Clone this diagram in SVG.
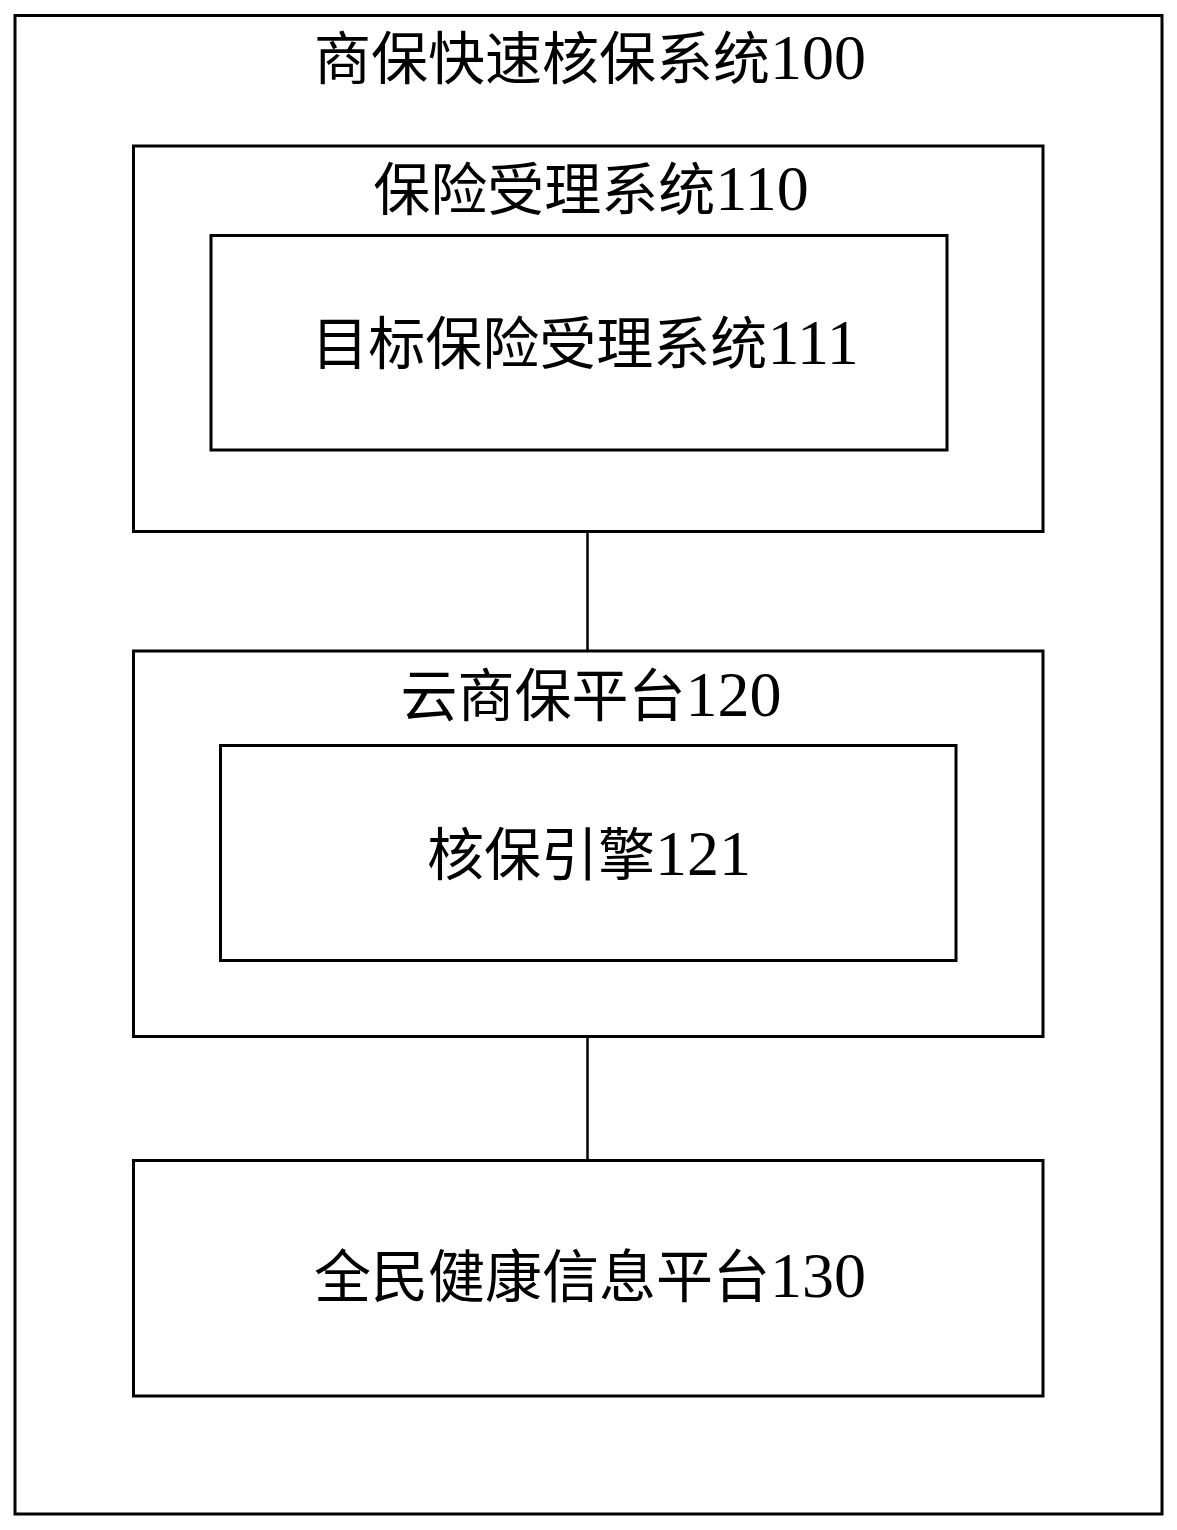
<svg xmlns="http://www.w3.org/2000/svg" width="1177" height="1530" viewBox="0 0 1177 1530">
<style>
.box{fill:none;stroke:#000;stroke-width:3}
.conn{stroke:#000;stroke-width:2.5;fill:none}
.lbl{font-family:"Noto Sans CJK SC","Liberation Serif",serif;font-size:57px;fill:#000;text-anchor:middle}
.num{font-family:"Liberation Serif",serif;font-size:64px}
</style>
<rect width="1177" height="1530" fill="#fff"/>
<g id="connectors">
<line class="conn" x1="587.5" y1="532" x2="587.5" y2="650"/>
<line class="conn" x1="587.5" y1="1037" x2="587.5" y2="1160"/>
</g>
<g id="n100">
<rect class="box" x="15" y="15.5" width="1147" height="1498.5"/>
<text class="lbl" x="590" y="79">商保快速核保系统<tspan class="num">100</tspan></text>
</g>
<g id="n110">
<rect class="box" x="133.5" y="146" width="909.5" height="385.5"/>
<text class="lbl" x="591" y="210">保险受理系统<tspan class="num">110</tspan></text>
</g>
<g id="n111">
<rect class="box" x="211" y="235.5" width="736" height="214.5"/>
<text class="lbl" x="585" y="364">目标保险受理系统<tspan class="num">111</tspan></text>
</g>
<g id="n120">
<rect class="box" x="133.5" y="651" width="909.5" height="385.5"/>
<text class="lbl" x="591" y="716">云商保平台<tspan class="num">120</tspan></text>
</g>
<g id="n121">
<rect class="box" x="220.5" y="745.5" width="735.5" height="215"/>
<text class="lbl" x="589" y="875">核保引擎<tspan class="num">121</tspan></text>
</g>
<g id="n130">
<rect class="box" x="133.5" y="1160.5" width="909.5" height="235.5"/>
<text class="lbl" x="590" y="1297">全民健康信息平台<tspan class="num">130</tspan></text>
</g>
</svg>
